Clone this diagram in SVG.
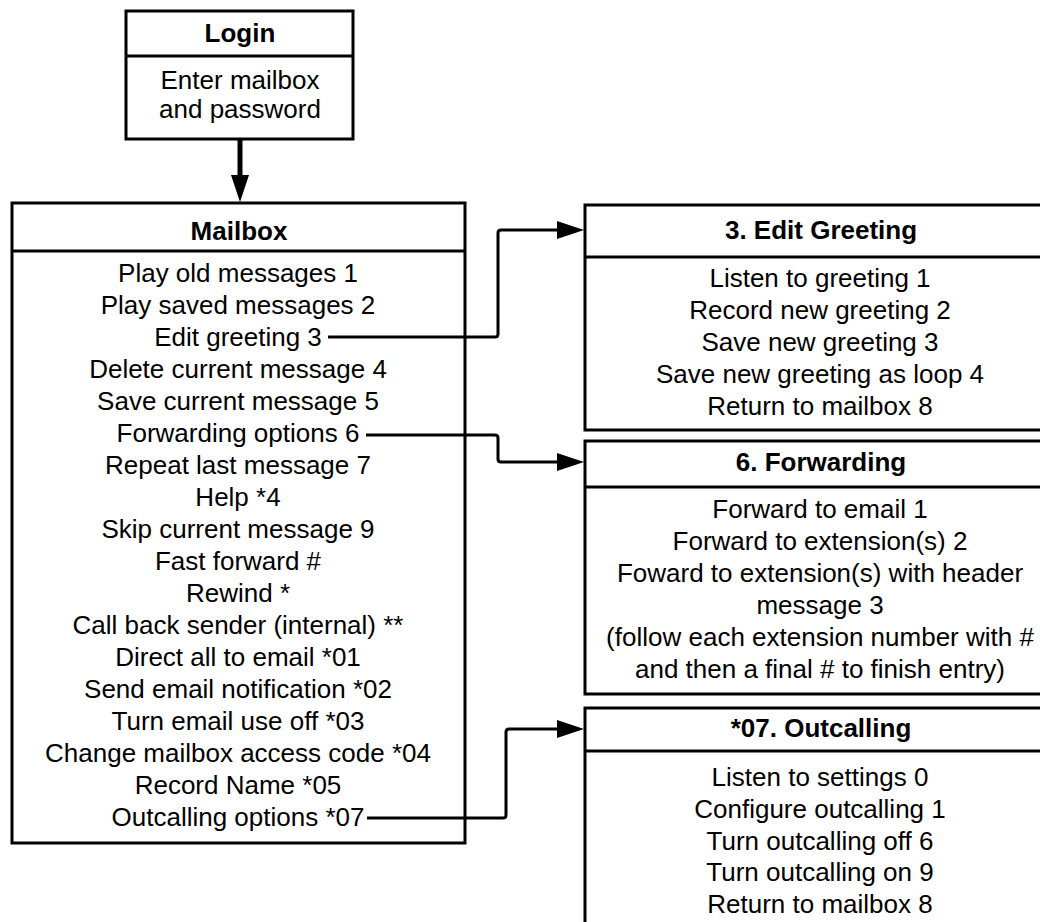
<svg xmlns="http://www.w3.org/2000/svg" width="1040" height="922" viewBox="0 0 1040 922">
<defs>
<style>
.box{fill:#fff;stroke:#000;stroke-width:3}
.sep{stroke:#000;stroke-width:3}
.hd{font-family:"Liberation Sans",Arial,sans-serif;font-size:26px;font-weight:bold;fill:#000;text-anchor:middle}
.tx{font-family:"Liberation Sans",Arial,sans-serif;font-size:26px;fill:#000;text-anchor:middle}
.conn{fill:none;stroke:#000;stroke-width:3;stroke-linejoin:round}
</style>
</defs>
<rect width="1040" height="922" fill="#fff"/>
<g id="login">
<rect class="box" x="126" y="11" width="227" height="128"/>
<line class="sep" x1="126" y1="56" x2="353" y2="56"/>
<text class="hd" x="240" y="42">Login</text>
<text class="tx" x="240" y="89">Enter mailbox</text>
<text class="tx" x="240" y="118">and password</text>
</g>
<g id="mailbox">
<rect class="box" x="12" y="203" width="453" height="640"/>
<line class="sep" x1="12" y1="251" x2="465" y2="251"/>
<text class="hd" x="239" y="240">Mailbox</text>
<text class="tx" x="238" y="282">Play old messages 1</text>
<text class="tx" x="238" y="314">Play saved messages 2</text>
<text class="tx" x="238" y="346">Edit greeting 3</text>
<text class="tx" x="238" y="378">Delete current message 4</text>
<text class="tx" x="238" y="410">Save current message 5</text>
<text class="tx" x="238" y="442">Forwarding options 6</text>
<text class="tx" x="238" y="474">Repeat last message 7</text>
<text class="tx" x="238" y="506">Help *4</text>
<text class="tx" x="238" y="538">Skip current message 9</text>
<text class="tx" x="238" y="570">Fast forward #</text>
<text class="tx" x="238" y="602">Rewind *</text>
<text class="tx" x="238" y="634">Call back sender (internal) **</text>
<text class="tx" x="238" y="666">Direct all to email *01</text>
<text class="tx" x="238" y="698">Send email notification *02</text>
<text class="tx" x="238" y="730">Turn email use off *03</text>
<text class="tx" x="238" y="762">Change mailbox access code *04</text>
<text class="tx" x="238" y="794">Record Name *05</text>
<text class="tx" x="238" y="826">Outcalling options *07</text>
</g>
<g id="edit-greeting">
<rect class="box" x="585" y="205" width="480" height="225"/>
<line class="sep" x1="585" y1="257" x2="1065" y2="257"/>
<text class="hd" x="821" y="239">3. Edit Greeting</text>
<text class="tx" x="820" y="287">Listen to greeting 1</text>
<text class="tx" x="820" y="319">Record new greeting 2</text>
<text class="tx" x="820" y="351">Save new greeting 3</text>
<text class="tx" x="820" y="383">Save new greeting as loop 4</text>
<text class="tx" x="820" y="415">Return to mailbox 8</text>
</g>
<g id="forwarding">
<rect class="box" x="585" y="441" width="480" height="253"/>
<line class="sep" x1="585" y1="487" x2="1065" y2="487"/>
<text class="hd" x="821" y="471">6. Forwarding</text>
<text class="tx" x="820" y="518">Forward to email 1</text>
<text class="tx" x="820" y="550">Forward to extension(s) 2</text>
<text class="tx" x="820" y="582">Foward to extension(s) with header</text>
<text class="tx" x="820" y="614">message 3</text>
<text class="tx" x="820" y="646">(follow each extension number with #</text>
<text class="tx" x="820" y="678">and then a final # to finish entry)</text>
</g>
<g id="outcalling">
<rect class="box" x="585" y="708" width="480" height="240"/>
<line class="sep" x1="585" y1="751" x2="1065" y2="751"/>
<text class="hd" x="821" y="737">*07. Outcalling</text>
<text class="tx" x="820" y="786">Listen to settings 0</text>
<text class="tx" x="820" y="818">Configure outcalling 1</text>
<text class="tx" x="820" y="850">Turn outcalling off 6</text>
<text class="tx" x="820" y="881">Turn outcalling on 9</text>
<text class="tx" x="820" y="913">Return to mailbox 8</text>
</g>
<g id="connectors">
<line x1="240" y1="139" x2="240" y2="178" stroke="#000" stroke-width="5"/>
<path d="M231,175 L249,175 L240,202 Z" fill="#000"/>
<path class="conn" d="M328,337 H495 Q498,337 498,334 V233 Q498,230 501,230 H560"/>
<path d="M557,221 L584,230 L557,239 Z" fill="#000"/>
<path class="conn" d="M366,435 H495 Q498,435 498,438 V459 Q498,462 501,462 H560"/>
<path d="M557,453 L584,462 L557,471 Z" fill="#000"/>
<path class="conn" d="M367,818 H503 Q506,818 506,815 V732 Q506,729 509,729 H560"/>
<path d="M557,720 L584,729 L557,738 Z" fill="#000"/>
</g>
</svg>
